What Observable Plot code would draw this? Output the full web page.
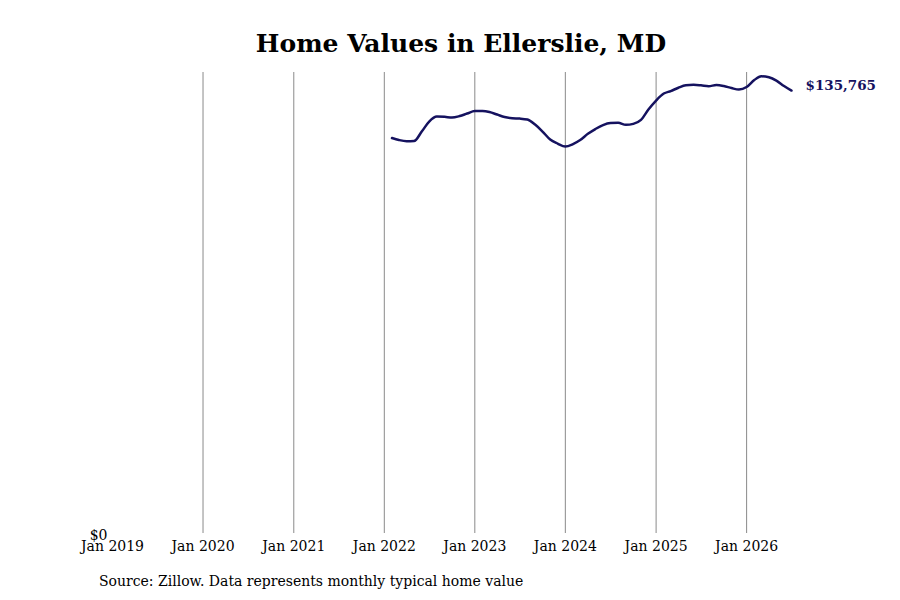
<!DOCTYPE html>
<html>
<head>
<meta charset="utf-8">
<script src="https://cdn.jsdelivr.net/npm/d3@7"></script>
<script src="https://cdn.jsdelivr.net/npm/@observablehq/plot@0.6"></script>
<style>
  body { margin: 0; background: #fff; font-family: "DejaVu Serif", serif; }
  #wrap { width: 900px; height: 600px; position: relative; overflow: hidden; }
  #title { height: 60px; box-sizing: border-box; padding-top: 29px; padding-left: 22px; text-align: center; font-weight: bold; font-size: 25px; line-height: 30px; color: #000; }
  #caption { position: absolute; left: 99px; top: 573px; font-size: 14px; color: #000; }
  svg { display: block; }
</style>
</head>
<body>
<div id="wrap">
  <div id="title">Home Values in Ellerslie, MD</div>
  <div id="chart"></div>
  <div id="caption">Source: Zillow. Data represents monthly typical home value</div>
</div>
<script>
const startMonth = "2022-02";
const values = [
  121209, 120596, 120230, 120290, 123200, 126266, 127798, 127706, 127492, 127951, 128717,
  129484, 129484, 129177, 128411, 127645, 127278, 127185, 126879, 125346, 123200, 120749, 119523,
  118604, 119370, 120596, 122496, 123967, 125193, 125806, 125867, 125254, 125560, 126786, 129943,
  132702, 134847, 135613, 136624, 137360, 137513, 137360, 137115, 137452, 137145, 136532, 136073,
  136839, 138984, 140149, 139843, 138831, 137145, 135765
];
const tickYears = [2019, 2020, 2021, 2022, 2023, 2024, 2025, 2026];
const gridYears = [2020, 2021, 2022, 2023, 2024, 2025, 2026];
const yTicks = [0];
const endLabel = "$135,765";

const start = new Date(startMonth + "-01T00:00:00Z");
const data = values.map((v, i) => ({
  date: new Date(Date.UTC(start.getUTCFullYear(), start.getUTCMonth() + i, 1)),
  value: v
}));
const last = data[data.length - 1];
const yMax = 141300;

const chart = Plot.plot({
  width: 900,
  height: 510,
  marginTop: 12,
  marginBottom: 37,
  marginLeft: 112,
  marginRight: 109,
  style: { fontFamily: "DejaVu Serif, serif", fontSize: "14px", color: "#000", background: "#fff" },
  x: {
    type: "utc",
    domain: [new Date(Date.UTC(2019, 0, 1)), last.date],
    tickSize: 0,
    label: null
  },
  y: {
    domain: [0, yMax],
    tickSize: 0,
    label: null
  },
  marks: [
    Plot.axisX({
      ticks: tickYears.map(y => new Date(Date.UTC(y, 0, 1))),
      tickFormat: d3.utcFormat("%b %Y"),
      tickSize: 0,
      tickPadding: 8,
      label: null
    }),
    Plot.axisY({
      ticks: yTicks,
      tickFormat: d => "$" + d3.format(",")(d),
      tickSize: 0,
      tickPadding: 5,
      dy: 2,
      label: null
    }),
    Plot.ruleX(gridYears.map(y => new Date(Date.UTC(y, 0, 1))), { y1: 0, y2: yMax, stroke: "#8a8a8a", strokeWidth: 1 }),
    Plot.line(data, { x: "date", y: "value", stroke: "#15125f", strokeWidth: 2.5, curve: "monotone-x" }),
    Plot.text([last], { x: "date", y: "value", text: () => endLabel, dx: 14, dy: -5, textAnchor: "start", fill: "#15125f", fontWeight: "bold", fontSize: 13.5 })
  ]
});
document.getElementById("chart").appendChild(chart);
</script>
</body>
</html>
